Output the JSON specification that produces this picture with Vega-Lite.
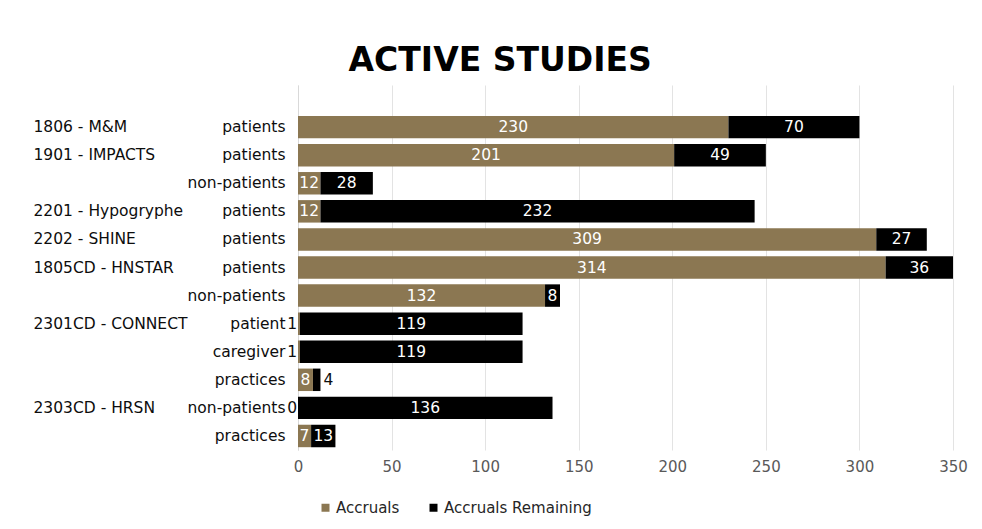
{
  "$schema": "https://vega.github.io/schema/vega-lite/v6.json",
  "autosize": {"type": "none"},
  "width": 655,
  "height": 365,
  "padding": {"left": 298, "top": 85, "right": 29, "bottom": 79},
  "background": "white",
  "title": {
    "text": "ACTIVE STUDIES",
    "font": "DejaVu Sans",
    "fontSize": 33,
    "fontWeight": "bold",
    "color": "#000000",
    "anchor": "middle",
    "frame": "bounds",
    "baseline": "bottom",
    "offset": -26
  },
  "data": {
    "values": [
      {"key": "01|1806 - M&M|patients", "series": "Accruals", "value": 230},
      {"key": "01|1806 - M&M|patients", "series": "Accruals Remaining", "value": 70},
      {"key": "02|1901 - IMPACTS|patients", "series": "Accruals", "value": 201},
      {"key": "02|1901 - IMPACTS|patients", "series": "Accruals Remaining", "value": 49},
      {"key": "03||non-patients", "series": "Accruals", "value": 12},
      {"key": "03||non-patients", "series": "Accruals Remaining", "value": 28},
      {"key": "04|2201 - Hypogryphe|patients", "series": "Accruals", "value": 12},
      {"key": "04|2201 - Hypogryphe|patients", "series": "Accruals Remaining", "value": 232},
      {"key": "05|2202 - SHINE|patients", "series": "Accruals", "value": 309},
      {"key": "05|2202 - SHINE|patients", "series": "Accruals Remaining", "value": 27},
      {"key": "06|1805CD - HNSTAR|patients", "series": "Accruals", "value": 314},
      {"key": "06|1805CD - HNSTAR|patients", "series": "Accruals Remaining", "value": 36},
      {"key": "07||non-patients", "series": "Accruals", "value": 132},
      {"key": "07||non-patients", "series": "Accruals Remaining", "value": 8},
      {"key": "08|2301CD - CONNECT|patient", "series": "Accruals", "value": 1},
      {"key": "08|2301CD - CONNECT|patient", "series": "Accruals Remaining", "value": 119},
      {"key": "09||caregiver", "series": "Accruals", "value": 1},
      {"key": "09||caregiver", "series": "Accruals Remaining", "value": 119},
      {"key": "10||practices", "series": "Accruals", "value": 8},
      {"key": "10||practices", "series": "Accruals Remaining", "value": 4},
      {"key": "11|2303CD - HRSN|non-patients", "series": "Accruals", "value": 0},
      {"key": "11|2303CD - HRSN|non-patients", "series": "Accruals Remaining", "value": 136},
      {"key": "12||practices", "series": "Accruals", "value": 7},
      {"key": "12||practices", "series": "Accruals Remaining", "value": 13}
    ]
  },
  "config": {
    "font": "DejaVu Sans",
    "view": {"stroke": null},
    "axis": {"labelFont": "DejaVu Sans"}
  },
  "resolve": {"axis": {"y": "independent"}},
  "layer": [
    {
      "mark": {"type": "bar"},
      "encoding": {
        "y": {
          "field": "key",
          "type": "nominal",
          "sort": null,
          "scale": {
            "domain": ["00||", "01|1806 - M&M|patients", "02|1901 - IMPACTS|patients", "03||non-patients", "04|2201 - Hypogryphe|patients", "05|2202 - SHINE|patients", "06|1805CD - HNSTAR|patients", "07||non-patients", "08|2301CD - CONNECT|patient", "09||caregiver", "10||practices", "11|2303CD - HRSN|non-patients", "12||practices"],
            "paddingInner": 0.2,
            "paddingOuter": 0.1
          },
          "axis": {
            "orient": "left",
            "title": null,
            "ticks": false,
            "domain": true,
            "domainColor": "#d9d9d9",
            "domainWidth": 1,
            "labelExpr": "split(datum.value, '|')[2]",
            "labelFontSize": 15.5,
            "labelColor": "#0d0d0d",
            "labelPadding": 13,
            "labelAlign": "right",
            "labelLimit": 200
          }
        },
        "x": {
          "field": "value",
          "type": "quantitative",
          "stack": "zero",
          "scale": {"domain": [0, 350], "nice": false},
          "axis": {
            "title": null,
            "values": [0, 50, 100, 150, 200, 250, 300, 350],
            "domain": false,
            "ticks": false,
            "grid": true,
            "gridColor": "#e3e3e3",
            "labelFontSize": 15,
            "labelColor": "#595959",
            "labelPadding": 9,
            "labelFlush": false
          }
        },
        "order": {"field": "series", "type": "nominal", "sort": "ascending"},
        "color": {
          "field": "series",
          "type": "nominal",
          "scale": {"domain": ["Accruals", "Accruals Remaining"], "range": ["#8b7752", "#000000"]},
          "legend": {
            "title": null,
            "orient": "none",
            "direction": "horizontal",
            "legendX": 20,
            "legendY": 415,
            "symbolType": "square",
            "symbolSize": 64,
            "symbolStrokeWidth": 0,
            "labelFontSize": 15,
            "labelColor": "#262626",
            "labelOffset": 3,
            "columnPadding": 26
          }
        }
      }
    },
    {
      "mark": {"type": "text", "color": "white", "fontSize": 15.5, "baseline": "middle", "align": "center"},
      "encoding": {
        "y": {
          "field": "key",
          "type": "nominal",
          "sort": null,
          "axis": {
            "orient": "left",
            "title": null,
            "ticks": false,
            "domain": false,
            "grid": false,
            "labelExpr": "split(datum.value, '|')[1]",
            "labelFontSize": 15.5,
            "labelColor": "#0d0d0d",
            "labelPadding": 265,
            "labelAlign": "left",
            "labelLimit": 250
          }
        },
        "x": {"field": "value", "type": "quantitative", "stack": "zero", "bandPosition": 0.5},
        "detail": {"field": "series", "type": "nominal"},
        "order": {"field": "series", "type": "nominal", "sort": "ascending"},
        "text": {"condition": {"test": "datum.value >= 5", "field": "value", "type": "quantitative"}, "value": ""}
      }
    },
    {
      "mark": {"type": "text", "color": "#0d0d0d", "fontSize": 15.5, "baseline": "middle", "align": "right", "dx": -1},
      "encoding": {
        "y": {"field": "key", "type": "nominal", "sort": null, "axis": null},
        "x": {"field": "value", "type": "quantitative", "stack": "zero", "bandPosition": 0},
        "detail": {"field": "series", "type": "nominal"},
        "order": {"field": "series", "type": "nominal", "sort": "ascending"},
        "text": {"condition": {"test": "datum.series == 'Accruals' && datum.value < 5", "field": "value", "type": "quantitative"}, "value": ""}
      }
    },
    {
      "mark": {"type": "text", "color": "#0d0d0d", "fontSize": 15.5, "baseline": "middle", "align": "left", "dx": 3},
      "encoding": {
        "y": {"field": "key", "type": "nominal", "sort": null, "axis": null},
        "x": {"field": "value", "type": "quantitative", "stack": "zero", "bandPosition": 1},
        "detail": {"field": "series", "type": "nominal"},
        "order": {"field": "series", "type": "nominal", "sort": "ascending"},
        "text": {"condition": {"test": "datum.series == 'Accruals Remaining' && datum.value < 5", "field": "value", "type": "quantitative"}, "value": ""}
      }
    }
  ]
}
